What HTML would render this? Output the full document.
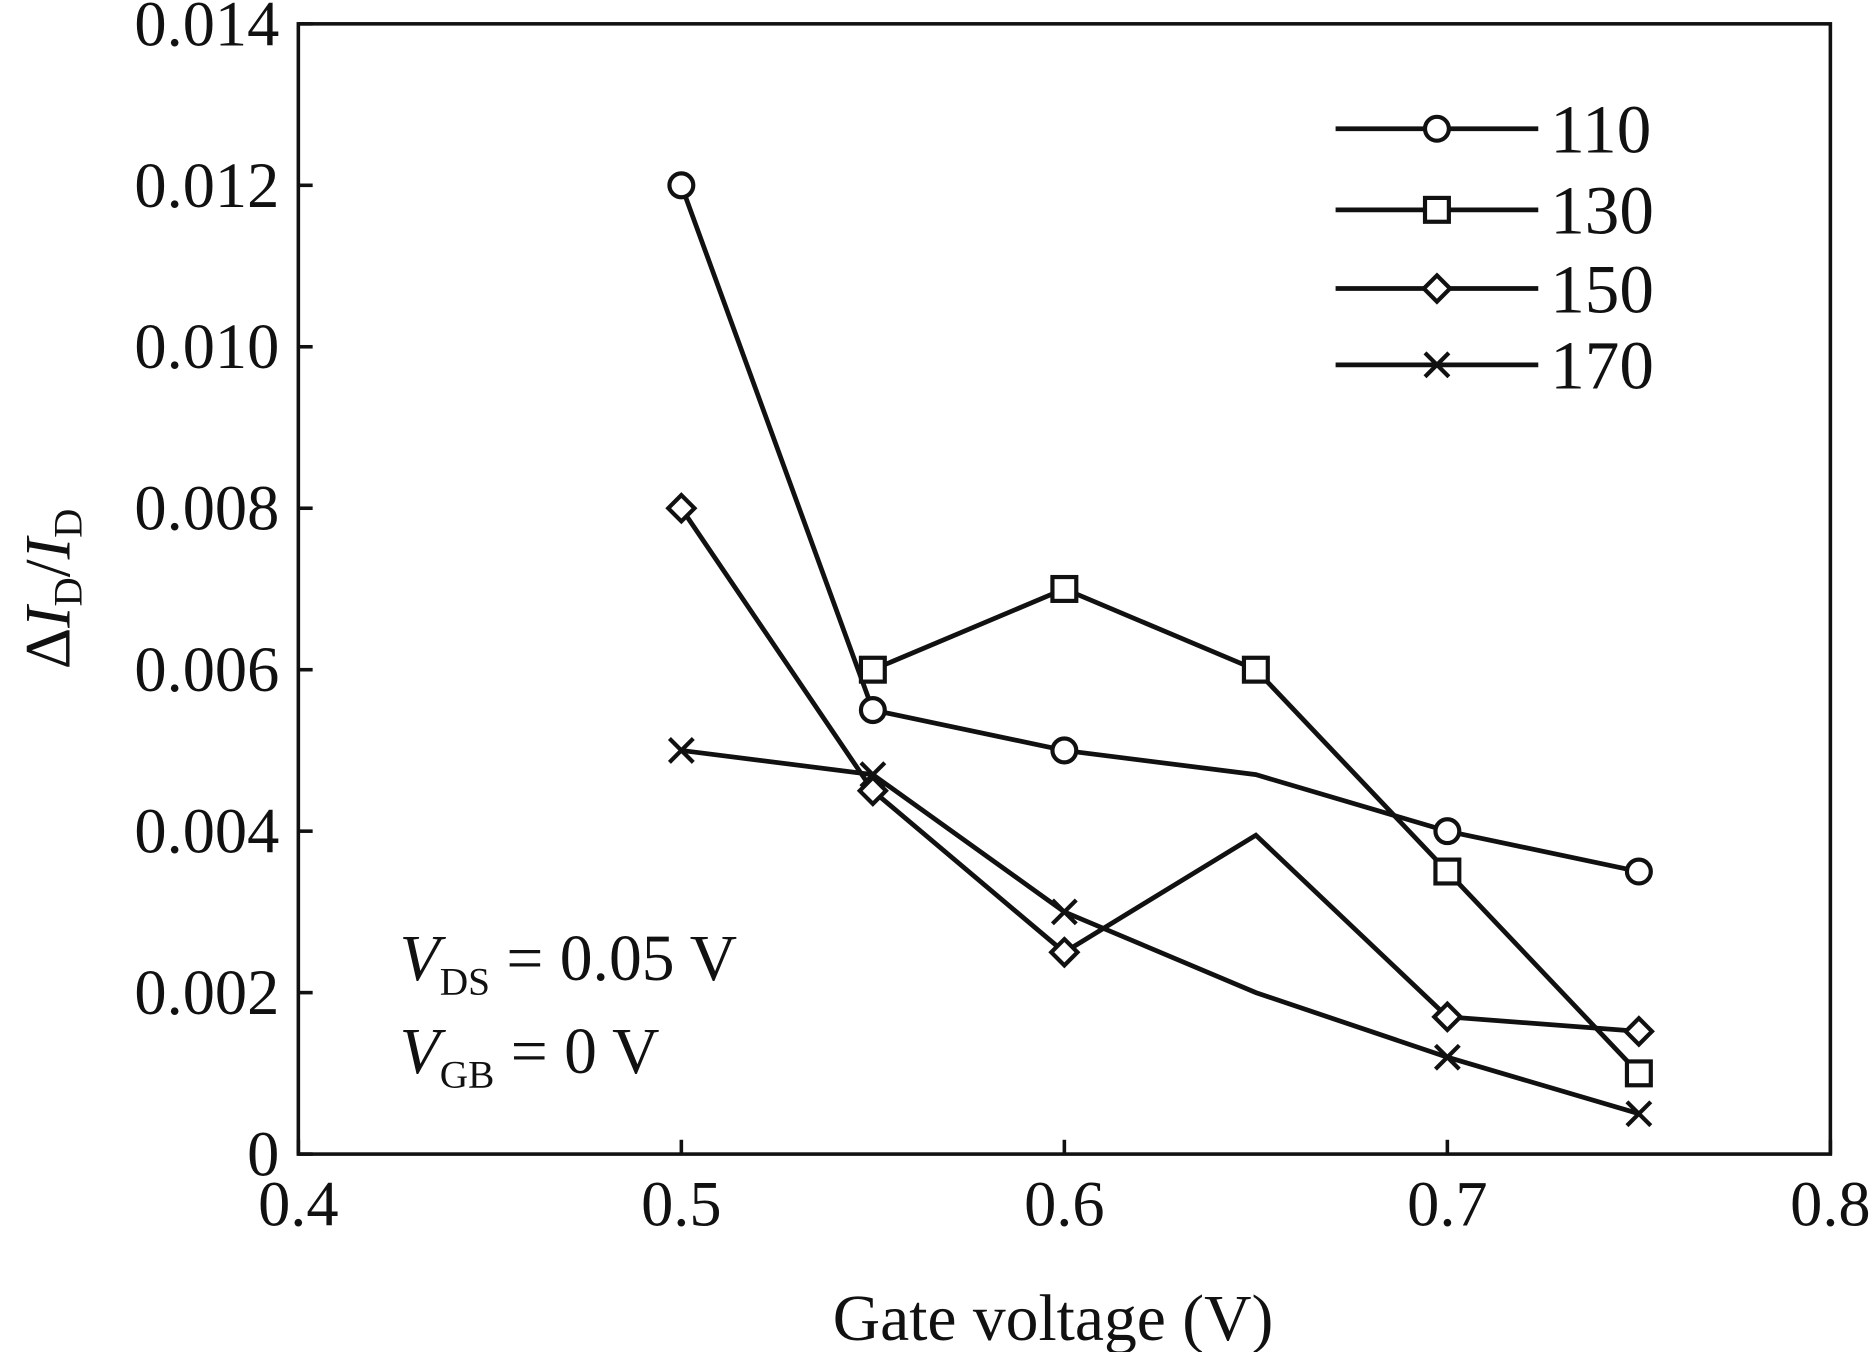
<!DOCTYPE html>
<html><head><meta charset="utf-8"><style>
html,body{margin:0;padding:0;background:#fff;}
svg{display:block;}
text{font-family:"Liberation Serif",serif;fill:#111;}
</style></head><body>
<svg id="chart" width="1870" height="1352" viewBox="0 0 1568 1134" xmlns="http://www.w3.org/2000/svg">
<rect x="250" y="20" width="1285" height="948" fill="none" stroke="#111" stroke-width="3"/>
<g id="axes"></g>
<g id="series"></g>
<g id="legend"></g>
<text x="883" y="1124" font-size="55" text-anchor="middle">Gate voltage (V)</text>
<text transform="translate(58,494) rotate(-90)" font-size="54" text-anchor="middle">Δ<tspan font-style="italic">I</tspan><tspan font-size="34" dy="10">D</tspan><tspan dy="-10">/</tspan><tspan font-style="italic">I</tspan><tspan font-size="34" dy="10">D</tspan></text>
<text x="335" y="822" font-size="55"><tspan font-style="italic">V</tspan><tspan font-size="33" dy="12">DS</tspan><tspan dy="-12"> = 0.05 V</tspan></text>
<text x="335" y="900" font-size="55"><tspan font-style="italic">V</tspan><tspan font-size="33" dy="12">GB</tspan><tspan dy="-12"> = 0 V</tspan></text>
</svg>
<script>
const xValues=[0.5,0.55,0.6,0.65,0.7,0.75];
const s110=[0.012,0.0055,0.005,0.0047,0.004,0.0035];
const s130=[null,0.006,0.007,0.006,0.0035,0.001];
const s150=[0.008,0.0045,0.0025,0.00395,0.0017,0.00152];
const s170=[0.005,0.0047,0.003,0.002,0.0012,0.0005];
const seriesNames=['110','130','150','170'];
const markerTypes=['circle','square','diamond','cross'];
const markerShown=[[1,1,1,0,1,1],[0,1,1,1,1,1],[1,1,1,0,1,1],[1,1,1,0,1,1]];
const xTicks=[0.4,0.5,0.6,0.7,0.8];
const xTickLabels=['0.4','0.5','0.6','0.7','0.8'];
const yTicks=[0,0.002,0.004,0.006,0.008,0.010,0.012,0.014];
const yTickLabels=['0','0.002','0.004','0.006','0.008','0.010','0.012','0.014'];

const NS='http://www.w3.org/2000/svg';
const X0=250,X1=1535,Y0=968,Y1=20;
const xs=v=>X0+(v-0.4)/(0.8-0.4)*(X1-X0);
const ys=v=>Y0-(v/0.014)*(Y0-Y1);
function mk(tag,attrs,parent){const e=document.createElementNS(NS,tag);for(const k in attrs)e.setAttribute(k,attrs[k]);parent.appendChild(e);return e;}
const axes=document.getElementById('axes');
xTicks.forEach((t,i)=>{
  const x=xs(t);
  const tk=mk('line',{x1:x,x2:x,y1:Y0,y2:Y0-12,stroke:'#111','stroke-width':3},axes);
  
  
  const tl=mk('text',{x:x,y:Y0+60,'font-size':54,'text-anchor':'middle'},axes);
  tl.textContent=xTickLabels[i];
  
  
});
yTicks.forEach((t,i)=>{
  const y=ys(t);
  const tk=mk('line',{x1:X0,x2:X0+12,y1:y,y2:y,stroke:'#111','stroke-width':3},axes);
  
  
  const tl=mk('text',{x:X0-16,y:y+18,'font-size':54,'text-anchor':'end'},axes);
  tl.textContent=yTickLabels[i];
  
  
});
function marker(type,x,y,parent){
  let e;const st={fill:'#fff',stroke:'#111','stroke-width':3.5};
  if(type==='circle')e=mk('circle',Object.assign({cx:x,cy:y,r:10},st),parent);
  else if(type==='square')e=mk('rect',Object.assign({x:x-10,y:y-10,width:20,height:20},st),parent);
  else if(type==='diamond')e=mk('polygon',Object.assign({points:`${x},${y-11} ${x+11},${y} ${x},${y+11} ${x-11},${y}`},st),parent);
  else e=mk('path',{d:`M${x-10},${y-10}L${x+10},${y+10}M${x-10},${y+10}L${x+10},${y-10}`,stroke:'#111','stroke-width':3.5,fill:'none'},parent);
  return e;
}
const allSeries=[s110,s130,s150,s170];
const sg=document.getElementById('series');
allSeries.forEach((s,si)=>{
  const g=mk('g',{},sg);
  
  
  const pts=[];s.forEach((v,i)=>{if(v!==null)pts.push([xs(xValues[i]),ys(v),i]);});
  const pl=mk('polyline',{points:pts.map(p=>p[0]+','+p[1]).join(' '),fill:'none',stroke:'#111','stroke-width':4,'stroke-linejoin':'miter'},g);
  
  
  pts.forEach(p=>{if(markerShown[si][p[2]]){
    const m=marker(markerTypes[si],p[0],p[1],g);
    
    
  }});
});
const lg=document.getElementById('legend');
const legY=[108,176,242,306];
seriesNames.forEach((n,i)=>{
  const g=mk('g',{},lg);
  
  
  mk('line',{x1:1120,x2:1290,y1:legY[i],y2:legY[i],stroke:'#111','stroke-width':4},g);
  marker(markerTypes[i],1205,legY[i],g);
  const t=mk('text',{x:1300,y:legY[i]+20,'font-size':58},g);
  t.textContent=n;
});
</script>
</body></html>
